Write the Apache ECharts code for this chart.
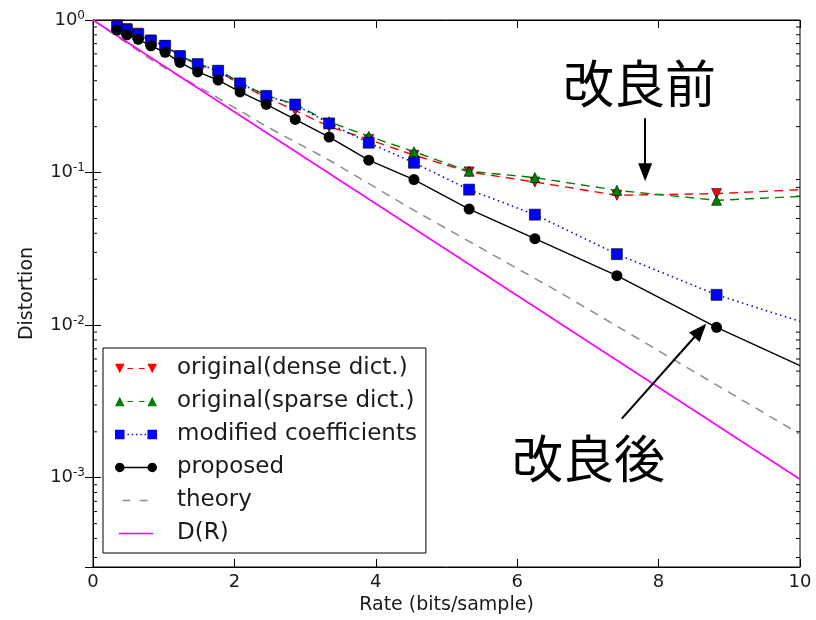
<!DOCTYPE html>
<html>
<head>
<meta charset="utf-8">
<script src="https://cdn.jsdelivr.net/npm/echarts@6/dist/echarts.min.js"></script>
<style>
html, body { margin: 0; padding: 0; background: #fff; }
#main { width: 816px; height: 620px; }
</style>
</head>
<body>
<div id="main"></div>
<script>
// rate points shared by the four measured curves (the *End value is where each line stops at R=10)
var rates = [0.34, 0.48, 0.64, 0.82, 1.02, 1.23, 1.48, 1.77, 2.08, 2.45, 2.86, 3.34, 3.90, 4.54, 5.32, 6.25, 7.41, 8.82];
var rateEnd = 10;
var dense = [0.93, 0.88, 0.82, 0.74, 0.68, 0.58, 0.51, 0.46, 0.38, 0.31, 0.256, 0.2, 0.165, 0.130, 0.101, 0.0867, 0.071, 0.0728];
var denseEnd = 0.0773;
var sparse = [0.92, 0.87, 0.81, 0.74, 0.68, 0.585, 0.515, 0.47, 0.39, 0.32, 0.28, 0.215, 0.173, 0.137, 0.102, 0.0927, 0.0765, 0.0658];
var sparseEnd = 0.0698;
var modified = [0.913, 0.86, 0.805, 0.731, 0.678, 0.58, 0.514, 0.465, 0.384, 0.318, 0.279, 0.21, 0.157, 0.116, 0.0773, 0.053, 0.0292, 0.0158];
var modifiedEnd = 0.0106;
var proposed = [0.86, 0.80, 0.747, 0.678, 0.614, 0.527, 0.457, 0.404, 0.338, 0.28, 0.223, 0.171, 0.1205, 0.090, 0.0577, 0.0369, 0.0211, 0.00968];
var proposedEnd = 0.00543;

var theoryRate = [0, 0.9, 1.7, 2.46, 3.35, 4.5, 6.6, 10];
var theory = [1, 0.52, 0.322, 0.2, 0.12, 0.058, 0.0164, 0.00193];
var drRate = [0, 10];
var dr = [1, 0.000977];

var minorTicks = [];
[0.0001, 0.001, 0.01, 0.1].forEach(function (d) {
	for (var k = 2; k <= 9; k++) minorTicks.push(+(d * k).toPrecision(3));
});

var yMin = 0.00026, yMax = 1;

function pairs(xs, ys, endY) {
	var out = xs.map(function (x, i) { return [x, ys[i]]; });
	if (endY !== undefined) out.push({ value: [rateEnd, endY], symbol: 'none' });
	return out;
}

var font = 'DejaVu Sans';
var chart = echarts.init(document.getElementById('main'));

var markerEdge = { borderColor: '#000', borderWidth: 0.6 };

// legend icons: marker - line - marker, as matplotlib draws them
function legendItem(name, icon, color) {
	return { name: name, icon: icon, itemStyle: { color: color, borderWidth: 0 } };
}

var option = {
	animation: false,
	backgroundColor: '#fff',
	textStyle: { fontFamily: font, color: '#000' },
	grid: { left: 93, right: 16, top: 20, bottom: 53, show: true, borderColor: '#000', borderWidth: 1 },
	legend: {
		orient: 'vertical',
		left: 103, top: 348,
		padding: [9, 9, 8, 12],
		itemGap: 10,
		itemWidth: 42, itemHeight: 10,
		borderColor: '#000', borderWidth: 1,
		backgroundColor: '#fff',
		textStyle: { fontFamily: font, fontSize: 23, color: '#1a1a1a', padding: [0, 0, 0, 15] },
		data: [
			legendItem('original(dense dict.)', 'path://M0,0L10,0L5,10ZM13,4.4L19,4.4L19,5.6L13,5.6ZM25,4.4L31,4.4L31,5.6L25,5.6ZM34,0L44,0L39,10Z', '#ff0000'),
			legendItem('original(sparse dict.)', 'path://M5,0L10,10L0,10ZM13,4.4L19,4.4L19,5.6L13,5.6ZM25,4.4L31,4.4L31,5.6L25,5.6ZM39,0L44,10L34,10Z', '#008000'),
			legendItem('modified coefficients', 'path://M0,0L10,0L10,10L0,10ZM13,4.3L14.5,4.3L14.5,5.7L13,5.7ZM17.5,4.3L19,4.3L19,5.7L17.5,5.7ZM22,4.3L23.5,4.3L23.5,5.7L22,5.7ZM26.5,4.3L28,4.3L28,5.7L26.5,5.7ZM31,4.3L32.5,4.3L32.5,5.7L31,5.7ZM34,0L44,0L44,10L34,10Z', '#0000ff'),
			legendItem('proposed', 'path://M0,5A5,5 0 1 1 10,5A5,5 0 1 1 0,5ZM9,4.3L35,4.3L35,5.7L9,5.7ZM34,5A5,5 0 1 1 44,5A5,5 0 1 1 34,5Z', '#000000'),
			legendItem('theory', 'path://M0,0M44,10M8,4.3L16,4.3L16,5.7L8,5.7ZM26,4.3L34,4.3L34,5.7L26,5.7Z', '#8c8c8c'),
			legendItem('D(R)', 'path://M0,0M44,10M4,4.3L40,4.3L40,5.7L4,5.7Z', '#ff00ff')
		]
	},
	xAxis: [{
		type: 'value', min: 0, max: 10, interval: 2,
		name: 'Rate (bits/sample)', nameLocation: 'middle', nameGap: 29,
		nameTextStyle: { fontFamily: font, fontSize: 19, color: '#1a1a1a' },
		axisLine: { lineStyle: { color: '#000', width: 1 } },
		axisTick: { inside: true, length: 8, lineStyle: { color: '#000' } },
		axisLabel: { fontFamily: font, fontSize: 18, color: '#1a1a1a', margin: 6 },
		splitLine: { show: false }
	}, {
		type: 'value', min: 0, max: 10, interval: 2, position: 'top',
		axisLine: { lineStyle: { color: '#000', width: 1 } },
		axisTick: { inside: true, length: 8, lineStyle: { color: '#000' } },
		axisLabel: { show: false },
		splitLine: { show: false }
	}],
	yAxis: [{
		type: 'log', logBase: 10, min: yMin, max: yMax,
		name: 'Distortion', nameLocation: 'middle', nameGap: 56,
		nameTextStyle: { fontFamily: font, fontSize: 19, color: '#1a1a1a' },
		axisLine: { lineStyle: { color: '#000', width: 1 } },
		axisTick: { inside: true, length: 8, lineStyle: { color: '#000' } },
		axisLabel: {
			fontFamily: font, color: '#1a1a1a', margin: 8,
			formatter: function (v) {
				var e = Math.log10(v);
				if (Math.abs(e - Math.round(e)) > 0.01) return '';
				return '{b|10}{e|' + Math.round(e) + '}';
			},
			rich: {
				b: { fontFamily: font, fontSize: 18, color: '#1a1a1a' },
				e: { fontFamily: font, fontSize: 12, color: '#1a1a1a', padding: [0, 0, 9, 0] }
			}
		},
		splitLine: { show: false },
		minorTick: { show: false }
	}, {
		type: 'log', logBase: 10, min: yMin, max: yMax, position: 'right',
		axisLine: { lineStyle: { color: '#000', width: 1 } },
		axisTick: { inside: true, length: 8, lineStyle: { color: '#000' } },
		axisLabel: { show: false },
		splitLine: { show: false }
	}],
	graphic: [
		{ type: 'text', left: 563, top: 58, style: { text: '改良前', fontFamily: 'Noto Sans CJK JP', fontSize: 51, fill: '#000' } },
		{ type: 'text', left: 512, top: 433, style: { text: '改良後', fontFamily: 'Noto Sans CJK JP', fontSize: 51, fill: '#000' } }
	],
	series: [
		{
			name: 'original(dense dict.)', type: 'line', data: pairs(rates, dense, denseEnd),
			symbol: 'triangle', symbolRotate: 180, symbolSize: 10,
			itemStyle: Object.assign({ color: '#ff0000' }, markerEdge),
			lineStyle: { color: '#ff0000', width: 1.4, type: [9, 6] }, z: 3
		},
		{
			name: 'original(sparse dict.)', type: 'line', data: pairs(rates, sparse, sparseEnd),
			symbol: 'triangle', symbolSize: 10,
			itemStyle: Object.assign({ color: '#008000' }, markerEdge),
			lineStyle: { color: '#008000', width: 1.4, type: [9, 6] }, z: 4
		},
		{
			name: 'modified coefficients', type: 'line', data: pairs(rates, modified, modifiedEnd),
			symbol: 'rect', symbolSize: 11,
			itemStyle: Object.assign({ color: '#0000ff' }, markerEdge),
			lineStyle: { color: '#0000ff', width: 1.6, type: [1.5, 3.5] }, z: 5
		},
		{
			name: 'proposed', type: 'line', data: pairs(rates, proposed, proposedEnd),
			symbol: 'circle', symbolSize: 11,
			itemStyle: { color: '#000' },
			lineStyle: { color: '#000', width: 1.4 }, z: 6,
			markLine: {
				silent: true, animation: false,
				symbol: ['none', 'triangle'], symbolSize: [14, 18],
				label: { show: false },
				lineStyle: { color: '#000', width: 2, type: 'solid' },
				data: [
					[{ coord: [7.81, 0.227] }, { coord: [7.81, 0.1005] }],
					[{ coord: [7.48, 0.00244] }, { coord: [8.59, 0.00922] }]
				]
			}
		},
		{
			name: 'theory', type: 'line', data: pairs(theoryRate, theory), showSymbol: false, symbol: 'none',
			itemStyle: { color: '#8c8c8c' },
			lineStyle: { color: '#8c8c8c', width: 1.5, type: [9, 7] }, z: 2
		},
		{
			name: 'D(R)', type: 'line', data: pairs(drRate, dr), showSymbol: false, symbol: 'none',
			itemStyle: { color: '#ff00ff' },
			lineStyle: { color: '#ff00ff', width: 1.6 }, z: 2
		},
		{
			type: 'custom', silent: true, z: 1,
			data: minorTicks.filter(function (v) { return v > yMin; }).map(function (v) { return [0, v]; }),
			renderItem: function (params, api) {
				var v = api.value(1);
				var l = api.coord([0, v]);
				var r = api.coord([10, v]);
				return {
					type: 'group', children: [
						{ type: 'line', shape: { x1: l[0], y1: l[1], x2: l[0] + 4, y2: l[1] }, style: { stroke: '#000', lineWidth: 1 } },
						{ type: 'line', shape: { x1: r[0] - 4, y1: r[1], x2: r[0], y2: r[1] }, style: { stroke: '#000', lineWidth: 1 } }
					]
				};
			}
		}
	]
};
chart.setOption(option);
</script>
</body>
</html>
